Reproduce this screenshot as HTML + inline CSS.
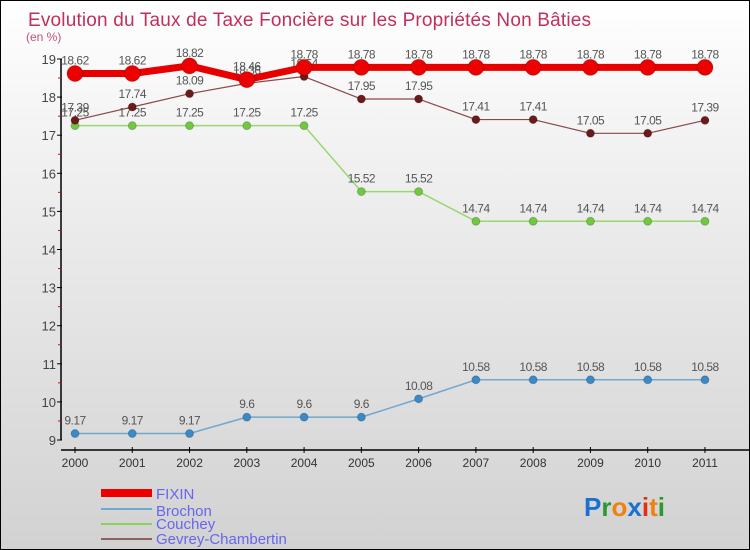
<!DOCTYPE html>
<html><head><meta charset="utf-8"><style>
body{margin:0}
#c{width:750px;height:550px;position:relative;box-sizing:border-box;border:1px solid #000;background:linear-gradient(#fff 0%,#f0f0f0 30%,#d2d2d2 100%);font-family:"Liberation Sans",sans-serif;overflow:hidden}
</style></head><body>
<div id="c">
<svg id="s" width="748" height="548">
<text x="27" y="25" font-size="19" fill="#c0305a" textLength="563">Evolution du Taux de Taxe Foncière sur les Propriétés Non Bâties</text>
<text x="25" y="40" font-size="12" fill="#c0507a">(en %)</text>
<g id="ax"></g><g id="ser"></g>
<g>
<rect x="100" y="488" width="51" height="8" fill="#e00"/>
<text x="155" y="498" font-size="15" fill="#6666ee">FIXIN</text>
<rect x="100" y="507" width="51" height="2" fill="#6fa8d0"/>
<text x="155" y="515" font-size="15" fill="#6666ee">Brochon</text>
<rect x="100" y="522" width="51" height="2" fill="#88d060"/>
<text x="155" y="528" font-size="15" fill="#6666ee">Couchey</text>
<rect x="100" y="537" width="51" height="2" fill="#906060"/>
<text x="155" y="543" font-size="15" fill="#6666ee">Gevrey-Chambertin</text>
</g>
<text x="583" y="515" font-size="26" font-weight="bold"><tspan fill="#1a70d0">P</tspan><tspan fill="#2a9a30">r</tspan><tspan fill="#f08010">o</tspan><tspan fill="#1a70d0">x</tspan><tspan fill="#e03010">i</tspan><tspan fill="#f08010">t</tspan><tspan fill="#2a9a30">i</tspan></text>
</svg></div>
<script>
const years=[2000,2001,2002,2003,2004,2005,2006,2007,2008,2009,2010,2011];
const yTicks=[9,10,11,12,13,14,15,16,17,18,19];
const fixin=[18.62,18.62,18.82,18.46,18.78,18.78,18.78,18.78,18.78,18.78,18.78,18.78];
const brochon=[9.17,9.17,9.17,9.6,9.6,9.6,10.08,10.58,10.58,10.58,10.58,10.58];
const couchey=[17.25,17.25,17.25,17.25,17.25,15.52,15.52,14.74,14.74,14.74,14.74,14.74];
const gevrey=[17.39,17.74,18.09,18.36,18.54,17.95,17.95,17.41,17.41,17.05,17.05,17.39];
const NS='http://www.w3.org/2000/svg';
const X=i=>74+i*57.27, Y=v=>439-(v-9)*38.1;
function mk(t,a,p){const e=document.createElementNS(NS,t);for(const k in a)e.setAttribute(k,a[k]);p.appendChild(e);return e;}
const ax=document.getElementById('ax'),ser=document.getElementById('ser');
const ya=mk('line',{x1:60,y1:Y(19),x2:60,y2:Y(9),stroke:'#000','stroke-width':1.5},ax);


yTicks.forEach(v=>{
 mk('line',{x1:56,x2:61,y1:Y(v),y2:Y(v),stroke:'#000'},ax);
 if(v<19)mk('line',{x1:57,x2:60,y1:Y(v+0.5),y2:Y(v+0.5),stroke:'#e00'},ax);
 const t=mk('text',{x:55,y:Y(v)+5,'font-size':13,fill:'#444','text-anchor':'end'},ax);t.textContent=v;
 
 
});
const xa=mk('line',{x1:60,y1:449,x2:748,y2:449,stroke:'#000','stroke-width':1.5},ax);


years.forEach((y,i)=>{
 mk('line',{x1:X(i),x2:X(i),y1:446,y2:452,stroke:'#000'},ax);
 const t=mk('text',{x:X(i),y:466,'font-size':12,fill:'#333','text-anchor':'middle'},ax);t.textContent=y;
 
 
});
function series(d,name,col,w,r,dot){
 const g=mk('g',{},ser);
 
 
 mk('polyline',{points:d.map((v,i)=>X(i)+','+Y(v)).join(' '),fill:'none',stroke:col,'stroke-width':w,'stroke-linejoin':'round'},g);
 d.forEach((v,i)=>{
  const c=mk('circle',{cx:X(i),cy:Y(v),r:r,fill:dot,stroke:'rgba(0,0,0,0.2)'},g);
  
  
  const t=mk('text',{x:X(i),y:Y(v)-9,'font-size':12,fill:'#555','text-anchor':'middle','letter-spacing':'-0.5'},g);t.textContent=v;
  
  
 });
}
series(brochon,'brochon','#6fa8d0',1.5,4,'#3a8ac8');
series(couchey,'couchey','#98d870',1.5,4,'#70c840');
series(gevrey,'gevrey','#8a4848',1.2,4,'#6a1a1a');
series(fixin,'fixin','#e80000',7,8,'#ee0000');
</script>
</body></html>
